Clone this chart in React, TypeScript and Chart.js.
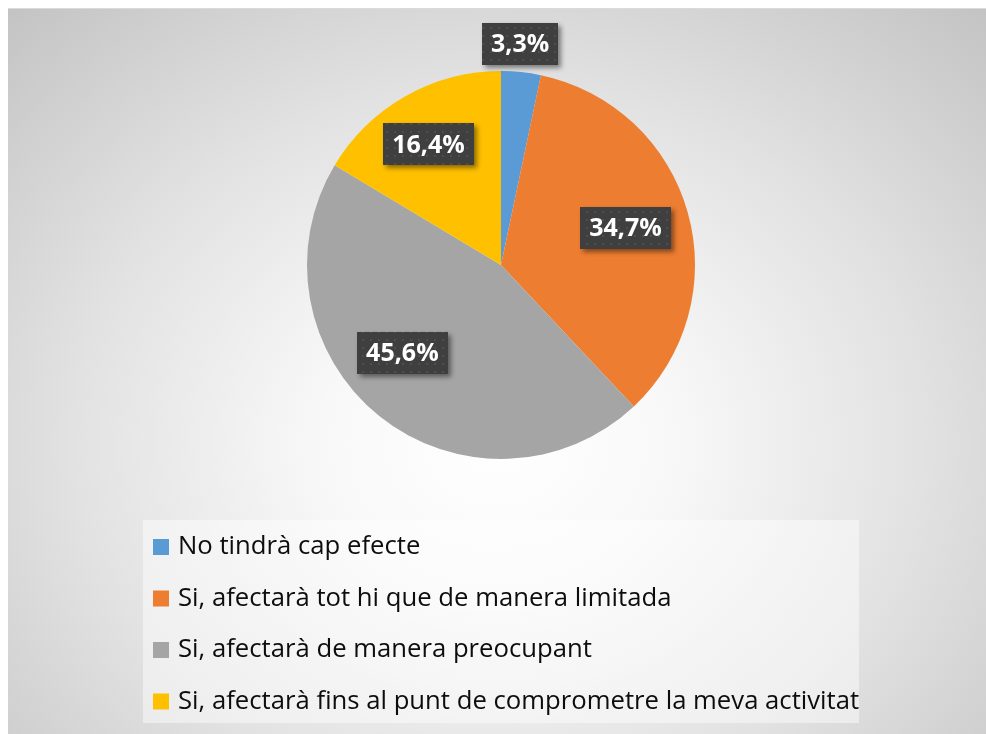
import React, { useEffect, useRef } from "react";
import { Chart, registerables } from "chart.js";

Chart.register(...registerables);

const categories: string[] = [
  "No tindrà cap efecte",
  "Si, afectarà tot hi que de manera limitada",
  "Si, afectarà de manera preocupant",
  "Si, afectarà fins al punt de comprometre la meva activitat",
];
const percentages: number[] = [3.3, 34.7, 45.6, 16.4];
const sliceColors: string[] = ["#5B9BD5", "#ED7D31", "#A5A5A5", "#FFC000"];
const valueLabels: string[] = ["3,3%", "34,7%", "45,6%", "16,4%"];

const FONT = "'Open Sans', Lato, 'Liberation Sans', sans-serif";

function makePattern(ctx: CanvasRenderingContext2D): CanvasPattern | string {
  const c = document.createElement("canvas");
  c.width = 8;
  c.height = 8;
  const p = c.getContext("2d");
  if (!p) return "#404040";
  p.fillStyle = "#3f3f3f";
  p.fillRect(0, 0, 8, 8);
  p.fillStyle = "#4e4e4e";
  p.fillRect(2, 2, 2, 2);
  return ctx.createPattern(c, "repeat") || "#404040";
}

const labelPlugin = {
  id: "boxLabels",
  afterDatasetsDraw(chart: any, _args: any, opts: any) {
    const ctx: CanvasRenderingContext2D = chart.ctx;
    const meta = chart.getDatasetMeta(0);
    const texts: string[] = opts.texts;
    const radial: number[] = opts.radial;
    const nudge: number[] = opts.nudge;
    const pattern = makePattern(ctx);
    ctx.save();
    ctx.font = `bold 25px ${FONT}`;
    ctx.textAlign = "center";
    ctx.textBaseline = "middle";
    meta.data.forEach((arc: any, i: number) => {
      const p = arc.getProps(["x", "y", "startAngle", "endAngle", "outerRadius"], true);
      const mid = (p.startAngle + p.endAngle) / 2 + (nudge[i] * Math.PI) / 180;
      const r = p.outerRadius * radial[i];
      const cx = p.x + Math.cos(mid) * r;
      const cy = p.y + Math.sin(mid) * r;
      const t = texts[i];
      const w = ctx.measureText(t).width + 18;
      const h = 42;
      ctx.save();
      ctx.shadowColor = "rgba(0,0,0,0.45)";
      ctx.shadowBlur = 5;
      ctx.shadowOffsetX = 3;
      ctx.shadowOffsetY = 3;
      ctx.fillStyle = pattern as any;
      ctx.fillRect(Math.round(cx - w / 2), Math.round(cy - h / 2), Math.round(w), h);
      ctx.restore();
      ctx.fillStyle = "#ffffff";
      ctx.fillText(t, cx, cy + 1);
    });
    ctx.restore();
  },
};

const legendPlugin = {
  id: "boxLegend",
  afterDraw(chart: any, _args: any, opts: any) {
    const ctx: CanvasRenderingContext2D = chart.ctx;
    const labels: string[] = chart.data.labels;
    const colors: string[] = chart.data.datasets[0].backgroundColor;
    ctx.save();
    ctx.fillStyle = "rgba(255,255,255,0.45)";
    ctx.fillRect(opts.left, opts.top, opts.width, opts.height);
    ctx.font = `25.7px ${FONT}`;
    ctx.textBaseline = "middle";
    ctx.textAlign = "left";
    labels.forEach((l, i) => {
      const y = opts.firstRow + i * opts.rowStep;
      ctx.fillStyle = colors[i];
      ctx.fillRect(opts.left + 10, y - 8, 16, 16);
      ctx.fillStyle = "#0d0d0d";
      ctx.fillText(l, opts.left + 35, y);
    });
    ctx.restore();
  },
};

export default function App() {
  const ref = useRef<HTMLCanvasElement | null>(null);
  useEffect(() => {
    document.documentElement.style.overflow = "hidden";
    if (!ref.current) return;
    const chart = new Chart(ref.current, {
      type: "pie",
      data: {
        labels: categories,
        datasets: [
          {
            data: percentages,
            backgroundColor: sliceColors,
            borderWidth: 0,
          },
        ],
      },
      options: {
        animation: false,
        responsive: true,
        maintainAspectRatio: false,
        layout: { padding: { top: 62, bottom: 275, left: 8, right: 0 } },
        plugins: {
          legend: { display: false },
          tooltip: { enabled: false },
          boxLabels: {
            texts: valueLabels,
            radial: [1.143, 0.67, 0.68, 0.725],
            nudge: [-1, -1, 9.5, -1.5],
          },
          boxLegend: {
            left: 135,
            top: 511,
            width: 716,
            height: 203,
            firstRow: 538,
            rowStep: 51.5,
          },
        } as any,
      },
      plugins: [labelPlugin, legendPlugin],
    });
    return () => chart.destroy();
  }, []);

  return (
    <div
      style={{
        position: "fixed",
        left: 8,
        top: 8,
        right: 0,
        bottom: 0,
        background:
          "radial-gradient(ellipse 72% 82% at 50% 60%, #ffffff 0%, #f8f8f8 25%, #e2e2e2 60%, #c4c4c4 100%)",
        borderTop: "1px solid #dadada",
        boxSizing: "border-box",
      }}
    >
      <canvas ref={ref} />
    </div>
  );
}
